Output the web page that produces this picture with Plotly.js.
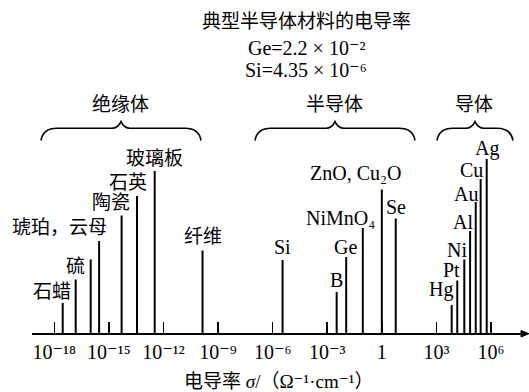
<!DOCTYPE html>
<html><head><meta charset="utf-8">
<script src="https://cdn.plot.ly/plotly-3.0.1.min.js"></script>
<style>html,body{margin:0;padding:0;background:#fff}</style>
</head><body><div id="chart" style="width:529px;height:392px"></div>
<script>
// ---- data ----
const materials = ["石蜡","硫","琥珀","云母","陶瓷","石英","玻璃板","纤维",
  "Si","B","Ge","NiMnO4","ZnO, Cu2O","Se",
  "Hg","Pt","Ni","Al","Au","Cu","Ag"];
const conductivity = [2.9e-18, 1.5e-17, 1e-16, 2.9e-16, 5e-15, 3.5e-14, 3.3e-13, 1.4e-10,
  3.5e-6, 3.3e-3, 1.1e-2, 9e-2, 1, 5.8,
  6.9e3, 1.4e4, 3.4e4, 7.1e4, 1.45e5, 2.7e5, 5.8e5];
const barHeight = [30, 53.5, 73.5, 92, 117.5, 137, 162, 82.5,
  73, 41, 76, 105, 143.5, 114.5,
  28, 52.5, 73.5, 102, 131, 154, 174];
const labels = ["石蜡","硫","","琥珀，云母","陶瓷","石英","玻璃板","纤维",
  "Si","B","Ge","NiMnO₄","ZnO, Cu₂O","Se",
  "Hg","Pt","Ni","Al","Au","Cu","Ag"];
const tickValues = [1e-18, 1e-15, 1e-12, 1e-9, 1e-6, 1e-3, 1, 1e3, 1e6];
const tickLabels = ["10⁻¹⁸","10⁻¹⁵","10⁻¹²","10⁻⁹","10⁻⁶","10⁻³","1","10³","10⁶"];
const groupNames = ["绝缘体","半导体","导体"];
const titleLines = ["典型半导体材料的电导率", "Ge=2.2 × 10⁻²", "Si=4.35 × 10⁻⁶"];
const axisTitle = "电导率 <i>σ</i>/（Ω⁻¹·cm⁻¹）";

// ---- layout helpers (pixel geometry) ----
const L = 32, R = 6, T = 0, B = 59, Wd = 529, Ht = 392;
const PW = Wd - L - R, PH = Ht - T - B;
const X = px => (px - L) / PW;
const Y = py => 1 - (py - T) / PH;
const pxPerDec = 18.196, x18 = 54.3;
const xr = [-18 + (L - x18) / pxPerDec, 6 + (Wd - R - 491) / pxPerDec];

const labelOffsets = [[-11,12],[0,13],[0,0],[-40,13.4],[-10.4,12.7],[-9,13.4],[0,12.7],[0,13.7],
  [0,13.4],[0,11.6],[-1,10],[-22.7,10],[-26.7,16.7],[0.6,12],
  [-10.4,15.7],[-5.5,10.3],[-7.3,9.7],[-7.5,9],[-9.3,8.4],[-9.3,9],[0,11]];

// bars as vertical segments
const bx = [], by = [];
conductivity.forEach((c, i) => { bx.push(c, c, null); by.push(0, barHeight[i], null); });

const serif = "Liberation Serif, DejaVu Serif, Noto Sans CJK SC, serif";
const annotations = [];
labels.forEach((t, i) => {
  if (!t) return;
  const isCJK = /[\u4e00-\u9fff]/.test(t);
  annotations.push({
    x: Math.log10(conductivity[i]), y: barHeight[i], xref: "x", yref: "y",
    xshift: labelOffsets[i][0], yshift: labelOffsets[i][1],
    text: t, showarrow: false, xanchor: "center", yanchor: "middle",
    font: {family: serif, size: isCJK ? 19 : 20, color: "#000"}
  });
});
// title lines
const titleY = [21, 48, 70];
titleLines.forEach((t, i) => annotations.push({
  xref: "paper", yref: "paper", x: X(306), y: Y(titleY[i]),
  text: t, showarrow: false, xanchor: "center", yanchor: "middle",
  font: {family: serif, size: i === 0 ? 19 : 20, color: "#000"}
}));
// group labels + braces
const groupCx = [121, 335, 475], groupHw = [80, 80, 38];
const shapes = [];
groupNames.forEach((g, i) => {
  annotations.push({xref: "paper", yref: "paper", x: X(groupCx[i] - 1), y: Y(104),
    text: g, showarrow: false, xanchor: "center", yanchor: "middle",
    font: {family: serif, size: 19, color: "#000"}});
  const cx = groupCx[i], hw = groupHw[i], yb = 128.3, ye = 140.5, yp = 121.7;
  const P = (a, b) => X(a).toFixed(5) + "," + Y(b).toFixed(5);
  const path = "M" + P(cx - hw, ye) + " Q" + P(cx - hw + 2, yb) + " " + P(cx - hw + 16, yb) +
    " L" + P(cx - 9, yb) + " Q" + P(cx - 3, yb) + " " + P(cx, yp) +
    " Q" + P(cx + 3, yb) + " " + P(cx + 9, yb) +
    " L" + P(cx + hw - 16, yb) + " Q" + P(cx + hw - 2, yb) + " " + P(cx + hw, ye);
  shapes.push({type: "path", xref: "paper", yref: "paper", path: path,
    line: {color: "#000", width: 1.6}});
});
// axis arrow head
shapes.push({type: "path", xref: "paper", yref: "paper",
  path: "M" + X(521) + "," + Y(330.5) + " L" + X(529) + "," + Y(333.7) + " L" + X(521) + "," + Y(337) + " Z",
  fillcolor: "#000", line: {color: "#000", width: 1}});
// axis title
annotations.push({xref: "paper", yref: "paper", x: X(279), y: Y(382), text: axisTitle,
  showarrow: false, xanchor: "center", yanchor: "middle",
  font: {family: serif, size: 19, color: "#000"}});

const data = [{type: "scatter", mode: "lines", x: bx, y: by,
  line: {color: "#000", width: 2}, hoverinfo: "skip", showlegend: false}];

const layout = {
  width: Wd, height: Ht, margin: {l: L, r: R, t: T, b: B},
  paper_bgcolor: "#fff", plot_bgcolor: "#fff", showlegend: false,
  font: {family: serif, color: "#000"},
  xaxis: {type: "log", range: xr, showgrid: false, zeroline: false,
    showline: true, linewidth: 2, linecolor: "#000",
    ticks: "inside", ticklen: 11, tickwidth: 1.5, tickcolor: "#000",
    tickvals: tickValues, ticktext: tickLabels,
    tickfont: {family: serif, size: 20, color: "#000"}},
  yaxis: {range: [0, PH], visible: false, showgrid: false, zeroline: false},
  annotations: annotations, shapes: shapes
};
Plotly.newPlot("chart", data, layout, {staticPlot: true, displayModeBar: false});
</script></body></html>
